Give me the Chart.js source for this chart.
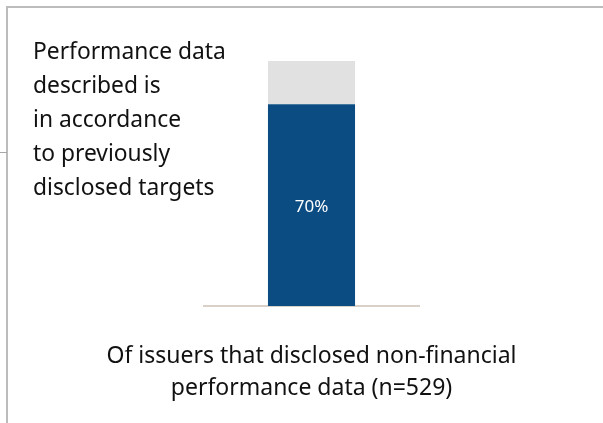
<!DOCTYPE html>
<html>
<head>
<meta charset="utf-8">
<script src="https://cdn.jsdelivr.net/npm/chart.js@4.4.1/dist/chart.umd.min.js"></script>
<style>
  html, body { margin: 0; padding: 0; background: #ffffff; }
  #wrap { position: relative; width: 603px; height: 423px; overflow: hidden; }
  #frame { position: absolute; left: 6px; top: 6px; width: 620px; height: 440px;
           border-top: 2px solid #bcbcbc; border-left: 2px solid #bcbcbc; }
  #tick { position: absolute; left: 0; top: 152px; width: 7px; height: 1px; background: #a8a8a8; }
  canvas { position: absolute; left: 0; top: 0; }
</style>
</head>
<body>
<div id="wrap">
  <div id="frame"></div>
  <div id="tick"></div>
  <canvas id="c" width="603" height="423"></canvas>
</div>
<script>
// Share of issuers whose performance data matches earlier disclosed targets
const categories = ["Performance data"];
const inAccordance = [70];
const remainder = [15];
const valueLabels = ["70%"];

const headingLines = [
  "Performance data",
  "described is",
  "in accordance",
  "to previously",
  "disclosed targets"
];
const captionLines = [
  "Of issuers that disclosed non-financial",
  "performance data (n=529)"
];

const FONT = "'Noto Sans', 'Open Sans', sans-serif";

// Draws the heading block, the caption under the bar and the value label
const textPlugin = {
  id: "textBlocks",
  afterDatasetsDraw(chart) {
    const ctx = chart.ctx;
    ctx.save();
    ctx.fillStyle = "#111111";
    ctx.font = "22.8px " + FONT;
    ctx.textAlign = "left";
    ctx.textBaseline = "middle";
    headingLines.forEach((t, i) => ctx.fillText(t, 33, 53 + i * 34));

    ctx.textAlign = "center";
    const cx = (chart.chartArea.left + chart.chartArea.right) / 2;
    ctx.font = "23px " + FONT;
    captionLines.forEach((t, i) => ctx.fillText(t, cx, 356 + i * 32.5));

    const meta = chart.getDatasetMeta(0);
    meta.data.forEach((bar, i) => {
      ctx.fillStyle = "#ffffff";
      ctx.font = "17px " + FONT;
      ctx.textAlign = "center";
      ctx.textBaseline = "middle";
      ctx.fillText(valueLabels[i], bar.x, (bar.y + bar.base) / 2 + 2);
    });
    ctx.restore();
  }
};

new Chart(document.getElementById("c"), {
  type: "bar",
  data: {
    labels: categories,
    datasets: [
      { data: inAccordance, backgroundColor: "#0b4c82", borderWidth: 0,
        barPercentage: 0.405, categoryPercentage: 1.0 },
      { data: remainder, backgroundColor: "#e1e1e1", borderWidth: 0,
        barPercentage: 0.405, categoryPercentage: 1.0 }
    ]
  },
  options: {
    responsive: false,
    animation: false,
    layout: { padding: { left: 204, right: 184, top: 61, bottom: 117 } },
    plugins: { legend: { display: false }, tooltip: { enabled: false } },
    scales: {
      x: {
        stacked: true,
        grid: { display: false, drawTicks: false },
        border: { display: true, color: "#d9d1c7", width: 2 },
        ticks: { display: false }
      },
      y: {
        stacked: true,
        display: false,
        min: 0,
        max: 85
      }
    }
  },
  plugins: [textPlugin]
});
</script>
</body>
</html>
